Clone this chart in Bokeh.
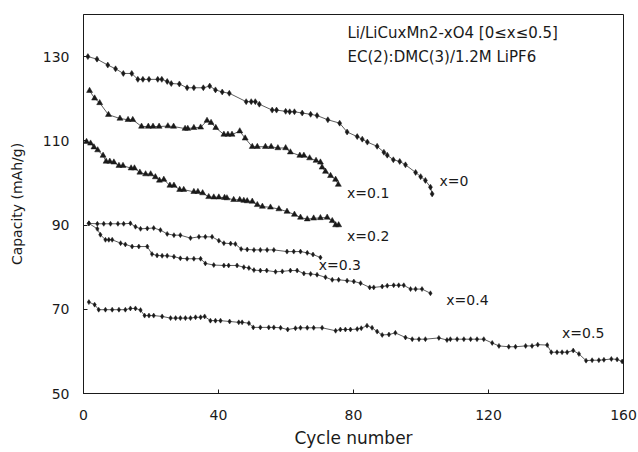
from bokeh.plotting import figure
from bokeh.models import Range1d, FixedTicker, Label
from bokeh.embed import file_html
from bokeh.resources import INLINE

# ---- data ----
cyc_x00 = [1.3, 4.0, 7.2, 9.5, 11.8, 14.3, 16.1, 17.6, 19.4, 22.0, 23.2, 24.8, 26.0, 28.4, 30.7, 32.7, 35.5,
           37.4, 39.1, 41.1, 43.2, 48.2, 49.7, 50.9, 52.1, 55.9, 57.2, 59.9, 61.1, 62.5, 64.8, 67.3, 69.2,
           72.4, 75.9, 78.1, 81.1, 82.6, 84.1, 87.0, 89.0, 90.0, 91.8, 93.7, 95.4, 98.4, 99.9, 101.3, 102.8, 103.3]
cap_x00 = [130.0, 129.4, 128.0, 127.1, 126.0, 126.0, 124.6, 124.6, 124.6, 124.6, 124.6, 124.1, 123.6, 123.5, 122.6, 122.6, 122.6,
           123.0, 122.1, 121.6, 121.3, 119.3, 119.3, 119.3, 118.7, 117.3, 117.3, 117.0, 116.9, 116.9, 116.6, 116.3, 116.0,
           115.0, 114.2, 112.1, 111.0, 110.4, 109.7, 108.7, 107.3, 106.6, 105.5, 105.1, 104.3, 102.5, 101.5, 100.6, 99.0, 97.4]

cyc_x01 = [1.8, 3.3, 4.8, 7.4, 10.8, 13.2, 14.6, 17.2, 19.2, 20.6, 22.4, 25.0, 26.7, 30.1, 30.9, 32.7, 34.7,
           36.6, 37.8, 39.2, 41.6, 42.8, 44.0, 46.3, 47.9, 50.0, 51.5, 53.9, 55.6, 57.6, 59.9, 61.3, 64.1,
           65.3, 67.0, 68.9, 70.2, 70.7, 71.7, 73.2, 74.7, 75.5]
cap_x01 = [121.9, 120.1, 119.0, 116.2, 115.3, 115.0, 115.0, 113.4, 113.4, 113.4, 113.4, 113.5, 113.4, 112.9, 112.9, 113.1, 113.2,
           114.8, 114.3, 113.1, 111.5, 111.5, 111.5, 112.3, 110.6, 108.6, 108.6, 108.6, 108.6, 108.3, 108.3, 107.3, 106.5,
           106.5, 105.9, 105.3, 104.9, 103.7, 102.7, 101.7, 100.8, 99.6]

cyc_x02 = [0.9, 2.1, 3.1, 4.2, 5.8, 6.7, 7.8, 9.0, 10.5, 11.7, 14.1, 15.1, 16.7, 18.4, 19.9, 21.3, 22.5, 23.8,
           25.6, 26.8, 28.5, 29.7, 32.7, 33.9, 35.3, 37.1, 38.6, 40.1, 41.8, 42.5, 44.5, 46.3, 47.5, 48.5,
           50.0, 51.5, 53.0, 55.4, 57.9, 60.3, 62.5, 64.3, 66.3, 68.2, 70.2, 72.2, 73.7, 74.7, 75.6]
cap_x02 = [109.8, 109.4, 108.5, 107.8, 106.5, 105.1, 105.1, 104.9, 104.1, 104.1, 103.5, 103.5, 102.5, 102.1, 102.1, 101.4, 100.6, 100.8,
           99.4, 99.4, 98.4, 98.4, 97.9, 97.9, 97.6, 96.7, 96.6, 96.6, 96.5, 96.4, 96.0, 96.0, 95.8, 95.7,
           95.6, 94.8, 94.4, 94.2, 93.8, 93.2, 92.5, 91.8, 91.4, 91.6, 91.7, 91.8, 91.0, 90.0, 90.0]

cyc_x03 = [1.6, 4.1, 6.0, 8.0, 10.2, 11.9, 13.9, 15.4, 16.9, 18.9, 20.8, 22.8, 24.8, 26.8, 28.7, 31.7, 34.2,
           36.1, 38.1, 40.1, 41.6, 43.6, 45.0, 46.7, 48.5, 50.5, 52.4, 54.4, 56.4, 60.3, 62.3, 64.3, 66.3, 68.0, 70.2]
cap_x03 = [90.4, 90.3, 90.3, 90.3, 90.3, 90.3, 90.4, 89.6, 89.1, 89.2, 89.3, 88.8, 87.9, 87.6, 87.6, 86.9, 87.2,
           87.2, 87.2, 86.3, 85.7, 85.6, 85.5, 84.3, 84.2, 84.1, 84.1, 84.1, 84.1, 83.7, 83.7, 83.7, 83.4, 83.0, 82.3]

cyc_x04 = [1.6, 4.1, 5.0, 6.5, 7.5, 8.5, 11.0, 12.4, 14.4, 16.4, 18.9, 20.3, 21.8, 23.3, 24.8, 26.8, 28.7,
           30.7, 32.7, 34.7, 36.1, 38.6, 41.6, 43.0, 45.5, 47.5, 49.0, 50.5, 52.4, 54.3, 56.9, 58.9, 61.3,
           63.3, 65.3, 67.3, 69.2, 71.7, 73.7, 75.6, 78.1, 80.1, 82.1, 84.8, 86.0, 88.5, 90.0, 91.9, 93.4,
           94.9, 96.9, 98.4, 100.3, 102.8]
cap_x04 = [90.4, 89.1, 87.7, 86.5, 86.5, 86.5, 85.7, 85.4, 84.9, 84.9, 84.9, 83.1, 82.8, 82.7, 82.7, 82.5, 82.1,
           82.0, 82.0, 82.0, 80.9, 80.5, 80.4, 80.4, 80.4, 80.0, 79.8, 79.3, 79.2, 79.2, 78.9, 79.0, 79.2,
           79.2, 78.5, 78.4, 78.2, 77.6, 77.0, 77.0, 76.8, 76.6, 76.2, 75.2, 75.2, 75.4, 75.6, 75.7, 75.7,
           75.7, 74.8, 74.8, 74.8, 73.8]

cyc_x05 = [1.6, 3.3, 4.5, 6.5, 8.5, 10.5, 12.4, 13.9, 15.4, 16.9, 18.1, 19.4, 20.8, 23.3, 25.8, 27.3, 28.7,
           30.2, 31.7, 33.2, 34.7, 35.9, 37.6, 39.1, 40.6, 43.3, 46.0, 47.0, 49.0, 50.3, 52.4, 54.9, 56.4,
           58.4, 60.5, 62.8, 64.3, 66.3, 68.2, 70.7, 74.7, 76.1, 77.6, 79.1, 81.1, 82.3, 84.0, 85.5, 87.0,
           88.5, 90.5, 92.4, 95.4, 97.4, 99.4, 101.3, 105.3, 107.7, 108.7, 110.7, 112.7, 114.7, 116.6, 118.6,
           121.1, 123.1, 126.0, 128.0, 131.0, 132.9, 134.6, 137.4, 138.6, 140.3, 141.8, 143.3, 145.1, 146.8,
           148.9, 150.7, 152.7, 154.2, 156.4, 158.1, 159.6]
cap_x05 = [71.7, 71.1, 69.9, 69.9, 69.9, 69.9, 69.9, 70.2, 70.2, 69.8, 68.5, 68.5, 68.5, 68.3, 67.9, 67.9, 67.9,
           67.9, 67.9, 68.1, 68.1, 68.3, 67.3, 67.3, 67.3, 67.1, 66.9, 66.9, 66.7, 65.7, 65.7, 65.7, 65.7,
           65.6, 65.2, 65.5, 65.6, 65.6, 65.6, 65.6, 64.9, 65.2, 65.2, 65.2, 65.3, 65.5, 66.1, 65.6, 64.7,
           63.9, 64.0, 64.4, 63.3, 62.9, 62.9, 62.9, 63.2, 62.7, 62.9, 62.9, 62.9, 62.9, 62.9, 62.9,
           62.0, 61.3, 61.1, 61.1, 61.3, 61.3, 61.6, 61.5, 59.8, 59.8, 59.8, 59.8, 60.2, 59.4,
           57.8, 57.9, 57.9, 58.0, 58.2, 58.1, 57.6]

series_labels = ["x=0", "x=0.1", "x=0.2", "x=0.3", "x=0.4", "x=0.5"]
x_ticks = [0, 40, 80, 120, 160]
y_ticks = [50, 70, 90, 110, 130]
note_lines = ["Li/LiCuxMn2-xO4 [0\u2264x\u22640.5]", "EC(2):DMC(3)/1.2M LiPF6"]
x_title = "Cycle number"
y_title = "Capacity (mAh/g)"

# ---- layout / style ----
FONT = "DejaVu Sans"
INK = "#1a1a1a"

p = figure(width=638, height=452, output_backend="svg", toolbar_location=None,
           x_range=Range1d(0, 160), y_range=Range1d(50, 140),
           min_border_left=83, min_border_right=15, min_border_top=14, min_border_bottom=59)
p.xgrid.visible = False
p.ygrid.visible = False
p.outline_line_color = INK
p.outline_line_width = 1
p.background_fill_color = "white"
p.border_fill_color = "white"

for ax in (p.xaxis[0], p.yaxis[0]):
    ax.major_tick_in = 4
    ax.major_tick_out = 0
    ax.minor_tick_in = 0
    ax.minor_tick_out = 0
    ax.axis_line_color = INK
    ax.major_tick_line_color = INK
    ax.major_label_text_font = FONT
    ax.major_label_text_font_size = "14px"
    ax.major_label_text_color = INK
    ax.axis_label_text_font = FONT
    ax.axis_label_text_font_style = "normal"
    ax.axis_label_text_color = INK

p.xaxis.ticker = FixedTicker(ticks=x_ticks)
p.yaxis.ticker = FixedTicker(ticks=y_ticks)
p.xaxis.axis_label = x_title
p.xaxis.axis_label_text_font_size = "17px"
p.xaxis.axis_label_standoff = 5
p.yaxis.axis_label = y_title
p.yaxis.axis_label_text_font_size = "14px"
p.xaxis.major_label_standoff = 16
p.yaxis.major_label_standoff = 14
p.yaxis.axis_label_standoff = 15

series = [
    (cyc_x00, cap_x00, "diamond", 6),
    (cyc_x01, cap_x01, "triangle", 6),
    (cyc_x02, cap_x02, "triangle", 6),
    (cyc_x03, cap_x03, "diamond", 5),
    (cyc_x04, cap_x04, "diamond", 5),
    (cyc_x05, cap_x05, "diamond", 5),
]
for xs, ys, mk, sz in series:
    p.line(xs, ys, line_color="#333333", line_width=0.8)
    p.scatter(xs, ys, marker=mk, size=sz, fill_color=INK, line_color=INK, line_width=0.5)

# label anchors (data coords)
label_pos = [(105.5, 100.5), (78.1, 97.5), (78.1, 87.5), (69.7, 80.4), (107.5, 72.2), (141.8, 64.4)]
for txt, (lx, ly) in zip(series_labels, label_pos):
    p.add_layout(Label(x=lx, y=ly, text=txt, text_font=FONT, text_font_size="14px",
                       text_color=INK, text_baseline="middle", text_align="left"))

note_pos = [(78.2, 135.7), (78.2, 129.8)]
for txt, (lx, ly) in zip(note_lines, note_pos):
    p.add_layout(Label(x=lx, y=ly, text=txt, text_font=FONT, text_font_size="15px",
                       text_color=INK, text_baseline="middle", text_align="left"))

open("out.html", "w").write(file_html(p, INLINE))
